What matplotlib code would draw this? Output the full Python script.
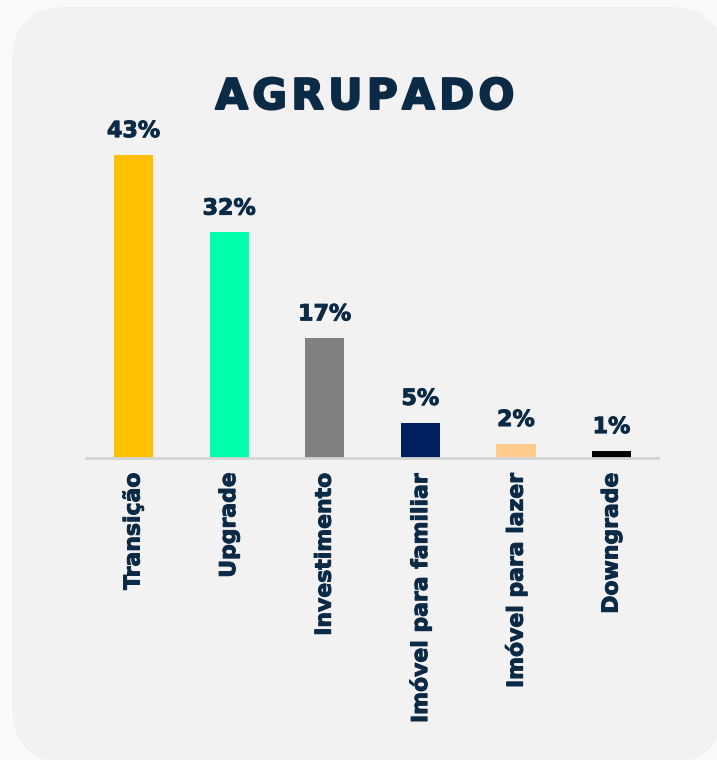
import matplotlib.pyplot as plt
import matplotlib.patheffects as pe
from matplotlib.patches import FancyBboxPatch

# dados
categorias = ["Transição", "Upgrade", "Investimento",
              "Imóvel para familiar", "Imóvel para lazer", "Downgrade"]
percentuais = [43, 32, 17, 5, 2, 1]
cores = ["#FFC000", "#00FFAA", "#808080", "#002060", "#FFCC8C", "#000000"]

texto = "#0b2a45"
plt.rcParams['font.family'] = ['DejaVu Sans']

fig = plt.figure(figsize=(7.17, 7.60), dpi=100, facecolor="#fafafa")

# cartão cinza com cantos arredondados (atrás dos eixos)
W, H = 717, 760
card = FancyBboxPatch((12 / W, -2 / H), 712 / W, 755 / H,
                      boxstyle="round,pad=0,rounding_size=0.075",
                      transform=fig.transFigure, facecolor="#f2f2f2",
                      edgecolor="none", zorder=-10)
fig.patches.append(card)

ax = fig.add_axes([86 / W, 302 / H, 572 / W, 358 / H])
ax.set_facecolor("none")
ax.set_zorder(5)

grosso = [pe.withStroke(linewidth=0.7, foreground=texto)]

x = list(range(len(categorias)))
barras = ax.bar(x, percentuais, width=0.41, color=cores)

for b, v in zip(barras, percentuais):
    ax.annotate(f"{v}%", (b.get_x() + b.get_width() / 2, v),
                xytext=(0, 10), textcoords="offset points",
                ha="center", va="bottom", fontsize=16,
                fontweight="bold", color=texto, path_effects=grosso)

ax.set_xlim(-0.497, 5.486)
ax.set_ylim(0, 50.8)
ax.set_xticks(x)
ax.set_xticklabels(categorias, rotation=90, fontsize=15.8,
                   fontweight="bold", color=texto)
for t in ax.get_xticklabels():
    t.set_path_effects(grosso)
ax.tick_params(axis="x", length=0, pad=10)
ax.set_yticks([])
for lado in ["top", "right", "left"]:
    ax.spines[lado].set_visible(False)
ax.spines["bottom"].set_color("#d4d4d4")
ax.spines["bottom"].set_linewidth(2)

fig.text(365 / W, 1 - 97 / H, "\u200a".join("AGRUPADO"),
         ha="center", va="center", fontsize=30.5, fontweight="heavy",
         color=texto, path_effects=[pe.withStroke(linewidth=1.4, foreground=texto)])

fig.savefig("out.png", dpi=100, facecolor=fig.get_facecolor())
